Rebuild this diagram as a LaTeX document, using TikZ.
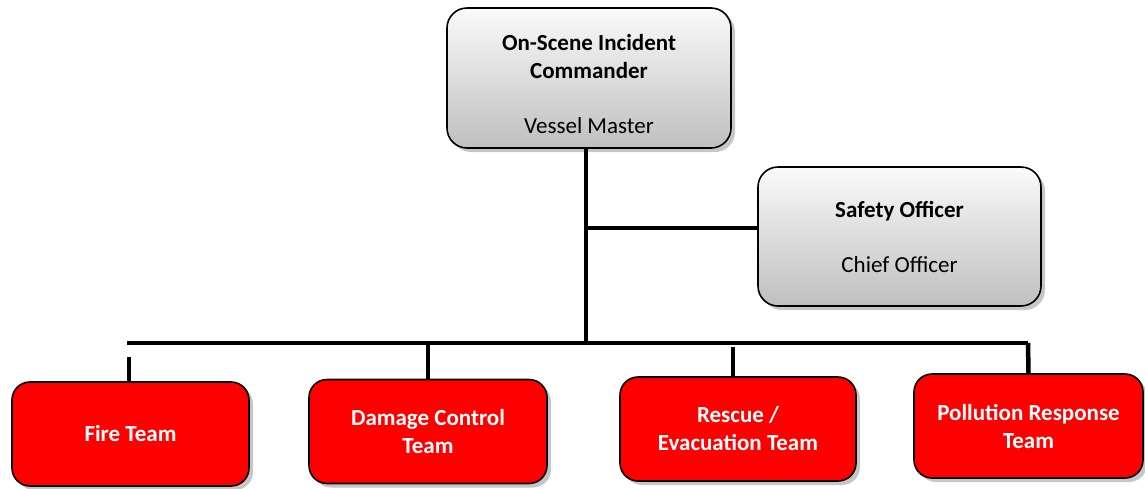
\documentclass[tikz,border=0pt]{standalone}
\usepackage{fontspec}
\setmainfont{Carlito}
\usetikzlibrary{shadows}

\begin{document}
\begin{tikzpicture}[x=1pt,y=-1pt,
		officer/.style={draw=black, line width=1.6pt, rounded corners=20pt,
			top color=gray!4, bottom color=gray!50,
			drop shadow={shadow xshift=4pt, shadow yshift=-4pt, opacity=0.45},
			align=center, font=\fontsize{23}{28}\selectfont},
		team/.style={draw=black, line width=1.6pt, rounded corners=18pt, fill=red,
			drop shadow={shadow xshift=4pt, shadow yshift=-4pt, opacity=0.45},
			align=center, text=white, font=\bfseries\fontsize{23}{28}\selectfont,
			minimum width=236pt, minimum height=104pt},
		link/.style={line width=4.5pt}]
		\useasboundingbox (0,0) rectangle (1145,488);

		% Command level
		\node[officer, minimum width=284pt, minimum height=140pt] (cmd) at (589,78)
			{\rule{0pt}{29pt}\textbf{On-Scene Incident}\\\textbf{Commander}\\[27pt]Vessel Master};
		\node[officer, minimum width=283pt, minimum height=139pt] (safety) at (899.5,236.5)
			{\textbf{Safety Officer}\\[27pt]Chief Officer};

		% Teams
		\node[team, minimum width=237pt] (fire) at (130.5,434) {Fire Team};
		\node[team, minimum width=238pt] (damage) at (428,431.5) {Damage Control\\Team};
		\node[team] (rescue) at (738,429) {Rescue /\\Evacuation Team};
		\node[team, minimum width=229pt] (pollution) at (1028.5,426) {Pollution Response\\Team};

		% Lines
		\coordinate (trunk) at (586,343);
		\coordinate (branch) at (586,228);
		\coordinate (busL) at (127,343);
		\coordinate (busR) at (1028,343);
		\draw[link] (cmd.south -| trunk) -- (trunk);
		\draw[link] (branch) -- (branch -| safety.west);
		\draw[link] (busL) -- (busR);
		\draw[link] (129,357) -- (129,382);
		\draw[link] (damage.north |- busL) -- (damage.north);
		\draw[link] (733,347) -- (733,378);
		\draw[link] (busR) -- (pollution.north);
\end{tikzpicture}
\end{document}
